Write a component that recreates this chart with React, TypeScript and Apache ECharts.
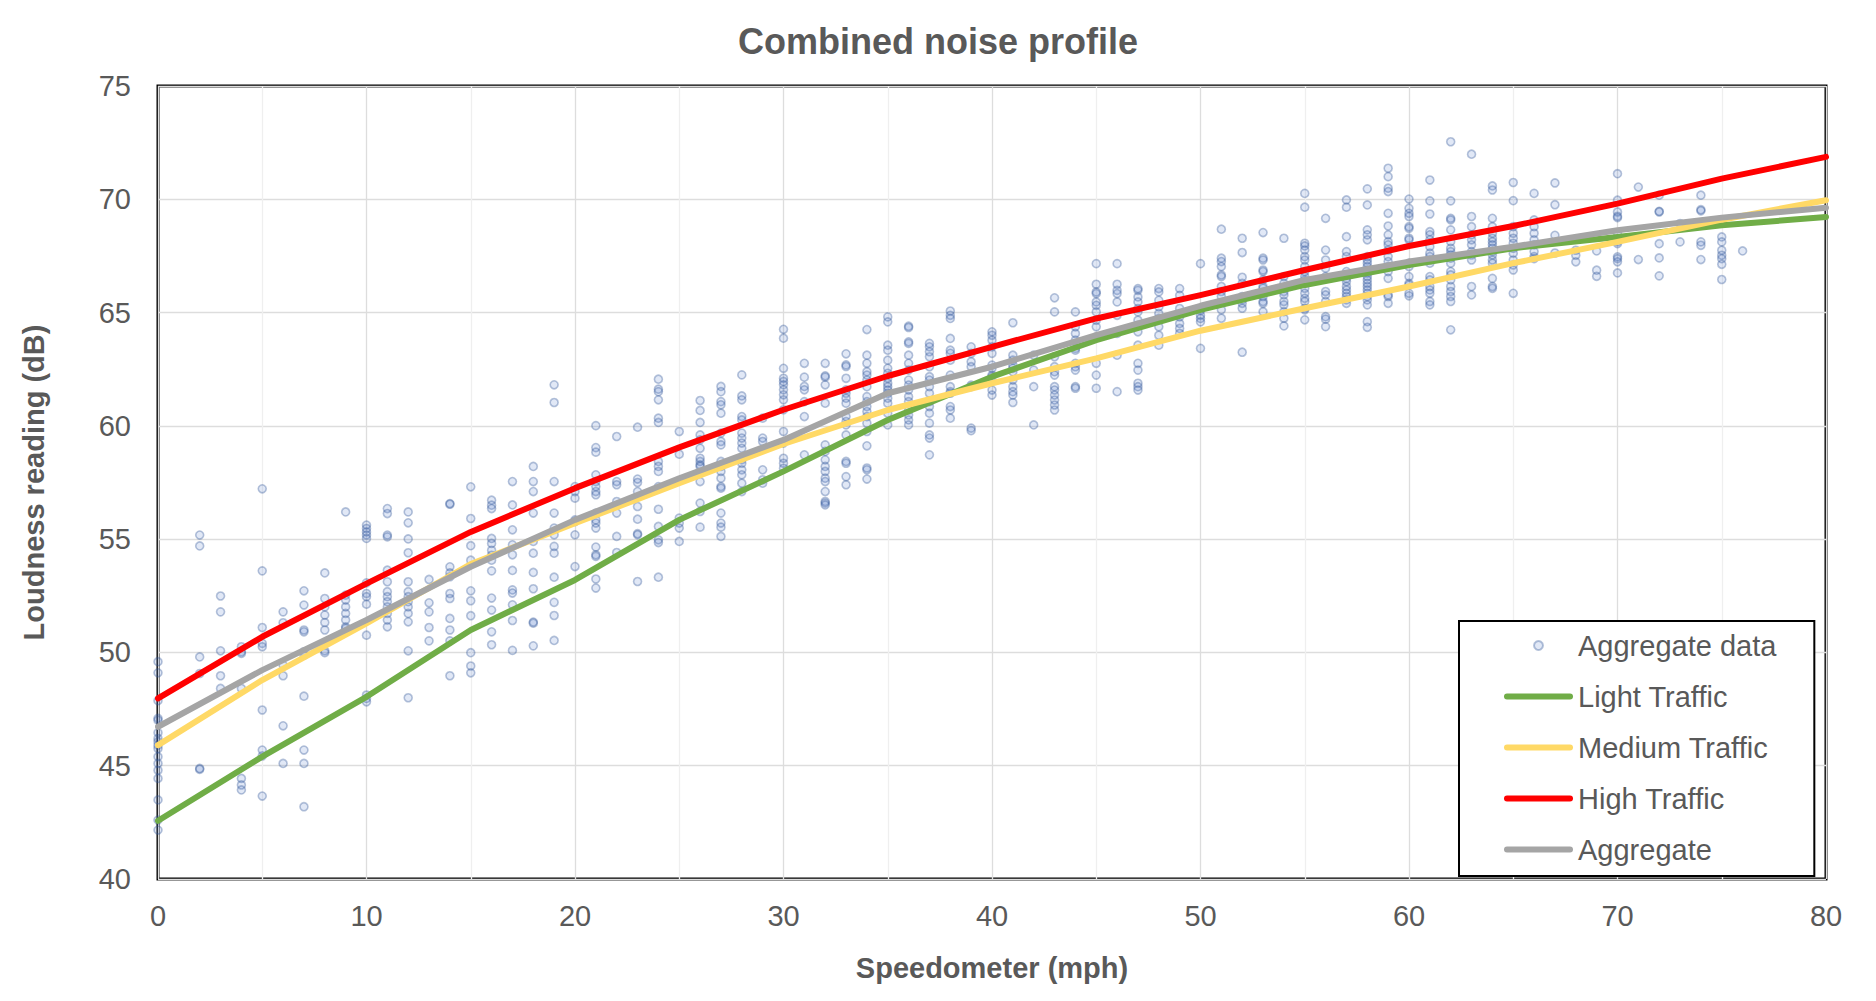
import React, { useEffect, useRef } from "react";
import * as echarts from "echarts";

type Column = [number, number[]];

// Scatter readings: [speed (mph), loudness readings (dB)]
const readingsLow: Column[] = [
  [0, [49.59, 49.1, 47.87, 47.09, 47.01, 46.46, 46.2, 46.06, 45.9, 45.76, 45.4, 45.1, 44.8, 44.44, 43.49, 42.6, 42.16]],
  [2, [55.18, 54.7, 49.8, 49.07, 44.88, 44.84]],
  [3, [52.49, 51.79, 50.07, 48.97, 48.41]],
  [4, [50.25, 50.03, 49.96, 48.41, 44.44, 44.15, 43.93]],
  [5, [57.22, 53.6, 51.1, 50.4, 50.25, 47.46, 45.69, 45.43, 43.66]],
  [6, [51.79, 51.31, 49.44, 48.97, 46.76, 45.1]],
  [7, [52.72, 52.09, 50.99, 50.91, 50.03, 49.88, 48.07, 45.69, 45.1, 43.19]],
  [8, [53.51, 52.38, 52.01, 51.65, 51.32, 50.99, 50.07, 49.99]],
  [9, [56.2, 52.53, 52.31, 52.01, 51.72, 51.43, 51.13, 51.06]],
  [10, [55.62, 55.47, 55.32, 55.18, 55.03, 53.07, 52.6, 52.46, 52.13, 50.76, 48.12, 47.97, 47.82]],
  [11, [56.35, 56.13, 55.18, 55.1, 53.63, 53.12, 52.68, 52.46, 52.24, 52.01, 51.72, 51.43, 51.13]],
  [12, [56.2, 55.72, 55.01, 54.4, 53.12, 52.68, 52.46, 52.24, 52.01, 51.72, 51.35, 50.07, 48.0]],
  [13, [53.22, 52.19, 51.79, 51.1, 50.51]],
  [14, [56.57, 56.54, 53.78, 53.51, 53.34, 52.6, 52.38, 51.5, 50.99, 50.51, 48.97]],
  [15, [57.31, 55.91, 54.71, 54.07, 52.72, 52.28, 51.62, 49.99, 49.4, 49.1]],
  [16, [56.72, 56.5, 56.35, 55.03, 54.81, 54.51, 54.29, 54.07, 53.6, 52.4, 51.87, 50.91, 50.34]],
];

const readingsMid: Column[] = [
  [17, [57.54, 56.51, 55.41, 54.75, 54.31, 53.62, 52.76, 52.62, 52.1, 51.41, 50.09]],
  [18, [58.21, 57.54, 57.1, 56.15, 54.9, 54.38, 53.53, 52.81, 51.34, 51.29, 50.29]],
  [19, [61.81, 61.03, 57.54, 56.15, 55.49, 55.19, 54.68, 54.38, 53.32, 52.21, 51.63, 50.53]],
  [20, [57.32, 57.1, 56.81, 55.85, 55.78, 55.19, 53.79]],
  [21, [60.01, 59.04, 58.84, 57.84, 57.54, 57.32, 57.1, 56.96, 56.15, 55.85, 55.71, 55.49, 54.65, 54.31, 54.24, 53.24, 52.84]],
  [22, [59.53, 57.54, 57.4, 56.66, 56.15, 55.12, 54.41]],
  [23, [59.94, 57.65, 57.5, 57.1, 56.44, 55.88, 55.24, 55.19, 53.13]],
  [24, [62.06, 61.62, 61.51, 61.15, 60.34, 60.15, 58.43, 58.21, 57.99, 57.32, 56.32, 55.56, 54.97, 54.85, 53.32]],
  [25, [59.75, 58.75, 55.93, 55.71, 55.49, 54.9]],
  [26, [61.12, 60.68, 60.15, 59.6, 59.38, 59.01, 58.57, 58.43, 58.28, 58.21, 57.54, 56.59, 56.22, 55.53]],
  [27, [61.74, 61.51, 61.07, 60.93, 60.56, 59.68, 59.31, 59.16, 58.43, 58.21, 57.99, 57.69, 57.32, 57.25, 56.15, 55.71, 55.53, 55.12]],
  [28, [62.25, 61.32, 61.15, 60.41, 60.26, 59.68, 59.46, 59.24, 59.01, 58.5, 58.35, 58.06, 57.84, 57.47, 57.1]],
  [29, [60.34, 59.46, 59.31, 58.06, 57.62, 57.47]],
  [30, [64.26, 63.87, 62.54, 62.1, 61.96, 61.81, 61.59, 61.37, 61.15, 60.71, 59.75, 59.24, 58.57, 58.35, 58.13]],
  [31, [62.76, 62.15, 61.74, 61.59, 61.07, 60.41, 58.72]],
  [32, [62.76, 62.21, 62.15, 61.81, 61.0, 59.16, 58.87, 58.5, 58.21, 57.99, 57.69, 57.54, 57.1, 56.66, 56.59, 56.51]],
  [33, [63.18, 62.69, 62.62, 62.1, 61.59, 61.44, 61.22, 61.0, 60.41, 60.19, 60.04, 59.6, 58.43, 58.35, 57.76, 57.4]],
  [34, [64.25, 63.12, 62.76, 62.39, 62.24, 62.02, 61.73, 61.29, 61.07, 60.85, 60.63, 60.41, 60.12, 59.75, 59.12, 58.14, 58.06, 57.65]],
];

const readingsUpperMid: Column[] = [
  [35, [64.81, 64.59, 63.56, 63.34, 62.9, 62.54, 62.32, 62.1, 61.88, 61.73, 61.58, 61.44, 61.22, 61.0, 60.56, 60.04]],
  [36, [64.4, 64.34, 63.71, 63.64, 63.12, 62.76, 62.46, 62.02, 61.8, 61.58, 61.29, 61.07, 60.7, 60.48, 60.26, 60.04]],
  [37, [63.64, 63.49, 63.27, 63.05, 62.61, 62.17, 62.02, 61.73, 61.44, 61.07, 60.85, 60.56, 60.12, 59.6, 59.46, 58.72]],
  [38, [65.07, 64.88, 64.74, 63.86, 63.34, 63.2, 62.9, 62.24, 61.73, 61.51, 61.44, 60.85, 60.7, 60.34]],
  [39, [63.49, 63.2, 62.83, 62.61, 61.8, 61.73, 59.9, 59.79]],
  [40, [64.15, 64.0, 63.78, 63.49, 63.2, 62.68, 62.54, 62.24, 62.17, 61.58, 61.36]],
  [41, [64.55, 63.12, 62.9, 62.68, 62.54, 62.39, 62.02, 61.73, 61.51, 61.36, 61.03]],
  [42, [63.12, 62.46, 61.73, 60.04]],
  [43, [65.65, 65.03, 63.05, 62.61, 62.39, 62.24, 61.73, 61.58, 61.36, 61.14, 60.92, 60.7]],
  [44, [65.03, 64.37, 64.08, 63.78, 63.42, 63.34, 62.76, 62.61, 62.46, 61.73, 61.66]],
  [45, [67.16, 66.25, 65.91, 65.84, 65.47, 65.32, 65.03, 64.66, 64.37, 63.93, 62.76, 62.24, 61.66]],
  [46, [67.16, 66.25, 65.98, 65.84, 65.47, 64.88, 64.08, 63.12, 61.51]],
  [47, [66.06, 65.98, 65.69, 65.47, 65.18, 65.03, 64.66, 64.44, 64.15, 63.56, 62.76, 62.46, 61.88, 61.73, 61.58]],
  [48, [66.06, 65.91, 65.54, 65.25, 64.96, 64.74, 64.37, 64.0, 63.56]],
  [49, [66.06, 65.76, 65.18, 64.81, 64.52, 64.3, 64.08]],
  [50, [67.16, 65.1, 64.88, 64.74, 64.59, 63.42]],
];

const readingsHigh: Column[] = [
  [51, [68.68, 67.4, 67.25, 67.03, 66.66, 66.59, 66.15, 65.93, 65.71, 65.12, 64.75]],
  [52, [68.28, 67.65, 66.56, 66.29, 65.71, 65.56, 65.41, 65.19, 63.25]],
  [53, [68.53, 67.4, 67.32, 66.88, 66.81, 66.44, 66.15, 66.07, 65.71, 65.49, 65.41, 65.04]],
  [54, [68.28, 66.59, 66.29, 66.07, 65.93, 65.78, 65.49, 65.34, 65.04, 64.75, 64.41]],
  [55, [70.26, 69.65, 68.06, 67.94, 67.76, 67.47, 67.32, 67.03, 66.81, 66.59, 66.44, 66.29, 66.07, 65.85, 65.63, 65.49, 65.19, 65.12, 64.68]],
  [56, [69.16, 67.76, 67.32, 66.96, 66.59, 65.93, 65.78, 65.49, 64.82, 64.71, 64.38]],
  [57, [69.97, 69.65, 68.35, 67.69, 67.47, 66.81, 66.66, 66.51, 66.37, 66.15, 66.0, 65.85, 65.71, 65.56, 65.41]],
  [58, [70.46, 69.75, 68.65, 68.43, 68.21, 67.47, 67.32, 67.18, 67.03, 66.88, 66.74, 66.59, 66.44, 66.29, 66.15, 66.0, 65.85, 65.71, 65.56, 65.34, 64.6, 64.35]],
  [59, [71.37, 71.0, 70.49, 70.34, 69.38, 68.82, 68.43, 68.13, 67.99, 67.76, 67.47, 67.25, 67.03, 66.81, 66.51, 65.78, 65.71, 65.41]],
  [60, [70.01, 69.6, 69.38, 69.24, 68.79, 68.72, 68.28, 68.21, 67.18, 67.03, 66.59, 66.29, 66.22, 65.85, 65.74]],
  [61, [70.85, 69.93, 69.35, 68.57, 68.43, 68.21, 67.91, 67.62, 67.47, 67.32, 67.18, 66.59, 66.44, 66.15, 66.0, 65.85, 65.49, 65.34]],
  [62, [72.54, 69.93, 69.16, 69.09, 68.65, 68.13, 67.84, 67.69, 67.54, 67.4, 67.18, 66.81, 66.66, 66.44, 66.15, 65.93, 65.71, 65.49, 64.24]],
  [63, [71.99, 69.24, 68.79, 68.43, 68.21, 67.99, 67.69, 67.54, 67.32, 66.15, 65.78]],
  [64, [70.59, 70.41, 69.16, 68.79, 68.5, 68.28, 68.13, 67.99, 67.84, 67.69, 67.54, 67.32, 67.18, 66.51, 66.15, 66.07]],
  [65, [70.74, 69.94, 68.79, 68.5, 68.28, 68.06, 67.84, 67.62, 67.32, 67.1, 66.88, 65.85]],
  [66, [70.26, 69.09, 68.79, 68.5, 68.21, 67.99, 67.69, 67.47, 67.38]],
];

const readingsTop: Column[] = [
  [67, [70.72, 69.76, 68.41, 67.63]],
  [68, [67.75, 67.53, 67.24]],
  [69, [67.72, 66.87, 66.6]],
  [70, [71.13, 69.96, 69.44, 69.25, 69.19, 68.51, 68.12, 68.04, 67.46, 67.38, 67.24, 66.75]],
  [71, [70.54, 67.34]],
  [72, [70.18, 69.47, 69.44, 68.04, 67.41, 66.62]],
  [73, [68.93, 68.12]],
  [74, [70.18, 69.54, 69.49, 68.12, 67.97, 67.34]],
  [75, [68.34, 68.12, 67.75, 67.53, 67.38, 67.13, 66.46]],
  [76, [67.72]],
];

// Fitted curves
const lineSpeeds = [0, 5, 10, 15, 20, 25, 30, 35, 40, 45, 50, 55, 60, 65, 70, 75, 80];
const lightTraffic = [42.57, 45.4, 48.04, 50.99, 53.2, 55.85, 57.99, 60.26, 62.17, 63.78, 65.12, 66.22, 67.1, 67.84, 68.34, 68.85, 69.22];
const mediumTraffic = [45.91, 48.78, 51.28, 53.9, 55.7, 57.47, 59.2, 60.7, 61.88, 62.98, 64.2, 65.19, 66.15, 67.18, 68.12, 69.1, 69.96];
const highTraffic = [47.97, 50.69, 53.04, 55.32, 57.25, 59.05, 60.71, 62.2, 63.49, 64.74, 65.77, 66.88, 67.94, 68.82, 69.81, 70.91, 71.87];
const aggregateFit = [46.72, 49.22, 51.43, 53.78, 55.85, 57.69, 59.38, 61.44, 62.61, 64.0, 65.3, 66.44, 67.25, 67.91, 68.63, 69.19, 69.63];

const FONT = "'Liberation Sans', Arial, Helvetica, sans-serif";
const TEXT = "#595959";
const LINE_ICON = "path://M3,0 L66,0 A3,3 0 0 1 66,6 L3,6 A3,3 0 0 1 3,0 Z";

function toPairs(cols: Column[]): number[][] {
  const out: number[][] = [];
  cols.forEach(([s, vals]) => vals.forEach((v) => out.push([s, v])));
  return out;
}

function zipLine(vals: number[]): number[][] {
  return lineSpeeds.map((s, i) => [s, vals[i]]);
}

export default function App() {
  const ref = useRef<HTMLDivElement>(null);
  useEffect(() => {
    if (!ref.current) return;
    const chart = echarts.init(ref.current, undefined, { renderer: "svg" });
    const scatterData = [
      ...toPairs(readingsLow),
      ...toPairs(readingsMid),
      ...toPairs(readingsUpperMid),
      ...toPairs(readingsHigh),
      ...toPairs(readingsTop),
    ];
    const lineSeries = (name: string, vals: number[], color: string) => ({
      name,
      type: "line",
      data: zipLine(vals),
      symbol: "none",
      showSymbol: false,
      smooth: false,
      lineStyle: { color, width: 6, cap: "round", join: "round" },
      itemStyle: { color },
      z: 3,
    });
    chart.setOption({
      animation: false,
      backgroundColor: "#ffffff",
      textStyle: { fontFamily: FONT },
      title: {
        text: "Combined noise profile",
        left: "center",
        top: 23,
        padding: 0,
        textStyle: { fontFamily: FONT, fontSize: 36, fontWeight: "bold", color: TEXT },
      },
      grid: {
        left: 158,
        right: 50,
        top: 86,
        bottom: 122,
        show: true,
        borderColor: "#000000",
        borderWidth: 3,
        backgroundColor: "transparent",
      },
      legend: {
        orient: "vertical",
        left: 1459,
        top: 621,
        padding: [10, 38, 12, 45],
        itemGap: 22,
        itemWidth: 69,
        itemHeight: 9,
        borderColor: "#000000",
        borderWidth: 2,
        backgroundColor: "#ffffff",
        textStyle: { fontFamily: FONT, fontSize: 29, color: TEXT },
        data: [
          { name: "Aggregate data", icon: "circle" },
          { name: "Light Traffic", icon: LINE_ICON },
          { name: "Medium Traffic", icon: LINE_ICON },
          { name: "High Traffic", icon: LINE_ICON },
          { name: "Aggregate", icon: LINE_ICON },
        ],
      },
      xAxis: {
        type: "value",
        min: 0,
        max: 80,
        interval: 10,
        name: "Speedometer (mph)",
        nameLocation: "middle",
        nameGap: 74,
        nameTextStyle: { fontFamily: FONT, fontSize: 29, fontWeight: "bold", color: TEXT },
        axisLine: { show: false },
        axisTick: { show: false },
        axisLabel: { fontFamily: FONT, fontSize: 29, color: TEXT, margin: 22 },
        splitLine: { show: true, lineStyle: { color: "#dddddd", width: 1.3 } },
        minorTick: { show: false, splitNumber: 2 },
        minorSplitLine: { show: true, lineStyle: { color: "#efefef", width: 1.3 } },
      },
      yAxis: {
        type: "value",
        min: 40,
        max: 75,
        interval: 5,
        name: "Loudness reading (dB)",
        nameLocation: "middle",
        nameGap: 110,
        nameTextStyle: { fontFamily: FONT, fontSize: 29, fontWeight: "bold", color: TEXT },
        axisLine: { show: false },
        axisTick: { show: false },
        axisLabel: { fontFamily: FONT, fontSize: 29, color: TEXT, margin: 27 },
        splitLine: { show: true, lineStyle: { color: "#dddddd", width: 1.3 } },
      },
      series: [
        {
          name: "Aggregate data",
          type: "scatter",
          data: scatterData,
          symbol: "circle",
          symbolSize: 8,
          clip: false,
          itemStyle: {
            color: "rgba(68,114,196,0.2)",
            borderColor: "rgba(47,85,151,0.44)",
            borderWidth: 1.6,
          },
          z: 2,
        },
        lineSeries("Light Traffic", lightTraffic, "#70AD47"),
        lineSeries("Medium Traffic", mediumTraffic, "#FFD966"),
        lineSeries("High Traffic", highTraffic, "#FF0000"),
        lineSeries("Aggregate", aggregateFit, "#A5A5A5"),
      ],
    });
    return () => chart.dispose();
  }, []);
  return (
    <div
      ref={ref}
      style={{ position: "fixed", left: 0, top: 0, width: 1876, height: 1001, background: "#fff" }}
    />
  );
}
